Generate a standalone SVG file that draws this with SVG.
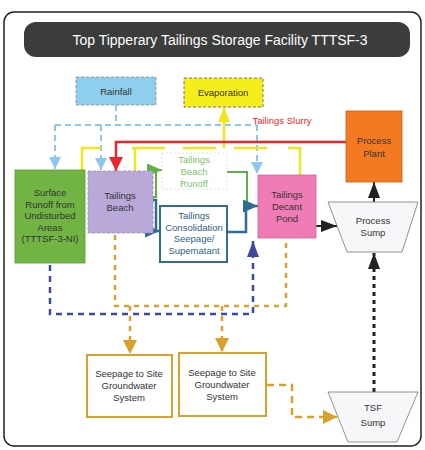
<svg xmlns="http://www.w3.org/2000/svg" width="425" height="450" viewBox="0 0 425 450">
<style>
text{font-family:"Liberation Sans",Arial,sans-serif;font-size:9.5px;fill:#333;text-anchor:middle}
.title{font-size:14px;fill:#fff}
.box{stroke-width:0.8}
.ln{fill:none}
</style>
<defs>
<marker id="aBlue" markerUnits="userSpaceOnUse" markerWidth="12" markerHeight="12" refX="12" refY="6" orient="auto"><path d="M0,0 L12,6 L0,12 z" fill="#8ec6ee"/></marker>
<marker id="aRed" markerUnits="userSpaceOnUse" markerWidth="14" markerHeight="14" refX="14" refY="7" orient="auto"><path d="M0,0 L14,7 L0,14 z" fill="#e8262b"/></marker>
<marker id="aYel" markerUnits="userSpaceOnUse" markerWidth="14" markerHeight="12" refX="14" refY="6" orient="auto"><path d="M0,0 L14,6 L0,12 z" fill="#f1e51b"/></marker>
<marker id="aGrn" markerUnits="userSpaceOnUse" markerWidth="15" markerHeight="13" refX="15" refY="6.5" orient="auto"><path d="M0,0 L15,6.5 L0,13 z" fill="#5db340"/></marker>
<marker id="aStl" markerUnits="userSpaceOnUse" markerWidth="15" markerHeight="13" refX="15" refY="6.5" orient="auto"><path d="M0,0 L15,6.5 L0,13 z" fill="#2f6d92"/></marker>
<marker id="aNav" markerUnits="userSpaceOnUse" markerWidth="16" markerHeight="12" refX="16" refY="6" orient="auto"><path d="M0,0 L16,6 L0,12 z" fill="#3e4a9e"/></marker>
<marker id="aOra" markerUnits="userSpaceOnUse" markerWidth="14" markerHeight="14" refX="14" refY="7" orient="auto"><path d="M0,0 L14,7 L0,14 z" fill="#d9a02c"/></marker>
<marker id="aBlk" markerUnits="userSpaceOnUse" markerWidth="16" markerHeight="12" refX="16" refY="6" orient="auto"><path d="M0,0 L16,6 L0,12 z" fill="#222"/></marker>
</defs>
<rect width="425" height="450" fill="#fff"/>
<rect x="4" y="12" width="417" height="434" rx="10" fill="none" stroke="#222" stroke-width="1.5"/>
<g id="title">
<rect x="24" y="22" width="386" height="35" rx="12" fill="#3a3d3c"/>
<text class="title" x="220" y="45">Top Tipperary Tailings Storage Facility TTTSF-3</text>
</g>
<g id="connectors">
<path class="ln" d="M116,105 V125 M55,125 H257" stroke="#8ec6ee" stroke-width="2" stroke-dasharray="6,4"/>
<path class="ln" d="M55,125 V169" stroke="#8ec6ee" stroke-width="2" stroke-dasharray="6,4" marker-end="url(#aBlue)"/>
<path class="ln" d="M101,125 V170" stroke="#8ec6ee" stroke-width="2" stroke-dasharray="6,4" marker-end="url(#aBlue)"/>
<path class="ln" d="M257,125 V174" stroke="#8ec6ee" stroke-width="2" stroke-dasharray="6,4" marker-end="url(#aBlue)"/>
<path class="ln" d="M82,170 V148 H101 M135,171 V148 M288,148 H300 V175" stroke="#f1e51b" stroke-width="2.5"/>
<path class="ln" d="M132,148 H270" stroke="#f1e51b" stroke-width="2.5" stroke-dasharray="33,18"/>
<path class="ln" d="M224,148 V108" stroke="#f1e51b" stroke-width="2.5" marker-end="url(#aYel)"/>
<path class="ln" d="M346,142 H116 V171" stroke="#e8262b" stroke-width="2.5" marker-end="url(#aRed)"/>
<path class="ln" d="M153,197 H156 V170 H162" stroke="#5db340" stroke-width="2" marker-end="url(#aGrn)"/>
<path class="ln" d="M227,172 H247 V205" stroke="#5db340" stroke-width="2"/>
<path class="ln" d="M153,200 H156 V231 H160" stroke="#2f6d92" stroke-width="2.5" marker-end="url(#aStl)"/>
<path class="ln" d="M227,232 H246 V206 H258" stroke="#2f6d92" stroke-width="2.5" marker-end="url(#aStl)"/>
<path class="ln" d="M50,265 V314 H253 V241" stroke="#3e4a9e" stroke-width="2.5" stroke-dasharray="6,5" marker-end="url(#aNav)"/>
<path class="ln" d="M115,235 V306 H286 V239" stroke="#d9a02c" stroke-width="2.5" stroke-dasharray="5,5"/>
<path class="ln" d="M130,306 V354" stroke="#d9a02c" stroke-width="2.5" stroke-dasharray="5,5" marker-end="url(#aOra)"/>
<path class="ln" d="M222,306 V352" stroke="#d9a02c" stroke-width="2.5" stroke-dasharray="5,5" marker-end="url(#aOra)"/>
<path class="ln" d="M267,385 H292 V417 H337" stroke="#d9a02c" stroke-width="2.5" stroke-dasharray="7,5" marker-end="url(#aOra)"/>
<path class="ln" d="M316,226 H337" stroke="#222" stroke-width="2" marker-end="url(#aBlk)"/>
<path class="ln" d="M374,202 V182" stroke="#222" stroke-width="2" marker-end="url(#aBlk)"/>
<path class="ln" d="M374,392 V253" stroke="#222" stroke-width="3" stroke-dasharray="4,4" marker-end="url(#aBlk)"/>
</g>
<text x="282" y="124" style="fill:#e8262b">Tailings Slurry</text>
<g id="rainfall">
<rect class="box" x="76" y="77" width="80" height="28" fill="#8ecfee" stroke="#888" stroke-dasharray="3,2"/>
<text x="116" y="95">Rainfall</text>
</g>
<g id="evaporation">
<rect class="box" x="184" y="78" width="79" height="29" fill="#f6ee1c" stroke="#555" stroke-dasharray="3,2"/>
<text x="223" y="96">Evaporation</text>
</g>
<g id="process-plant">
<rect class="box" x="346" y="111" width="56" height="71" fill="#f47a21" stroke="#c0601a"/>
<text x="374" y="144">Process</text>
<text x="374" y="157">Plant</text>
</g>
<g id="surface-runoff">
<rect class="box" x="15" y="170" width="70" height="93" fill="#72b443" stroke="#5a9a30"/>
<text x="50" y="196">Surface</text>
<text x="50" y="207.5">Runoff from</text>
<text x="50" y="219">Undisturbed</text>
<text x="50" y="230.5">Areas</text>
<text x="50" y="242">(TTTSF-3-NI)</text>
</g>
<g id="tailings-beach">
<rect class="box" x="88" y="171" width="65" height="62" fill="#b8a9d8" stroke="#9a8cb8" stroke-dasharray="3,2"/>
<text x="120" y="199">Tailings</text>
<text x="120" y="211">Beach</text>
</g>
<g id="beach-runoff">
<rect class="box" x="162" y="153" width="65" height="36" fill="#fff" stroke="#cfe6c8" stroke-dasharray="2,2"/>
<text x="194" y="163" style="fill:#7cc46a">Tailings</text>
<text x="194" y="175" style="fill:#7cc46a">Beach</text>
<text x="194" y="187" style="fill:#7cc46a">Runoff</text>
</g>
<g id="consolidation">
<rect x="160" y="206" width="67" height="56" fill="#fff" stroke="#2f6d92" stroke-width="2"/>
<text x="194" y="219" style="fill:#2f5f86">Tailings</text>
<text x="194" y="230.5" style="fill:#2f5f86">Consolidation</text>
<text x="194" y="242" style="fill:#2f5f86">Seepage/</text>
<text x="194" y="253.5" style="fill:#2f5f86">Supematant</text>
</g>
<g id="decant-pond">
<rect class="box" x="258" y="175" width="58" height="63" fill="#f07cb5" stroke="#c9699a"/>
<text x="287" y="198">Tailings</text>
<text x="287" y="210">Decant</text>
<text x="287" y="222">Pond</text>
</g>
<g id="process-sump">
<polygon points="328,202 418,202 402,252 347,252" fill="#f7f7f9" stroke="#777" stroke-width="0.8"/>
<text x="373" y="224">Process</text>
<text x="373" y="236">Sump</text>
</g>
<g id="seepage-1">
<rect x="87" y="355" width="85" height="62" fill="#fff" stroke="#d9a02c" stroke-width="2"/>
<text x="129" y="377">Seepage to Site</text>
<text x="129" y="389">Groundwater</text>
<text x="129" y="401">System</text>
</g>
<g id="seepage-2">
<rect x="179" y="353" width="87" height="63" fill="#fff" stroke="#d9a02c" stroke-width="2"/>
<text x="222" y="376">Seepage to Site</text>
<text x="222" y="388">Groundwater</text>
<text x="222" y="400">System</text>
</g>
<g id="tsf-sump">
<polygon points="328,392 418,392 397,442 348,442" fill="#f7f7f9" stroke="#777" stroke-width="0.8"/>
<text x="373" y="411">TSF</text>
<text x="373" y="426">Sump</text>
</g>
</svg>
